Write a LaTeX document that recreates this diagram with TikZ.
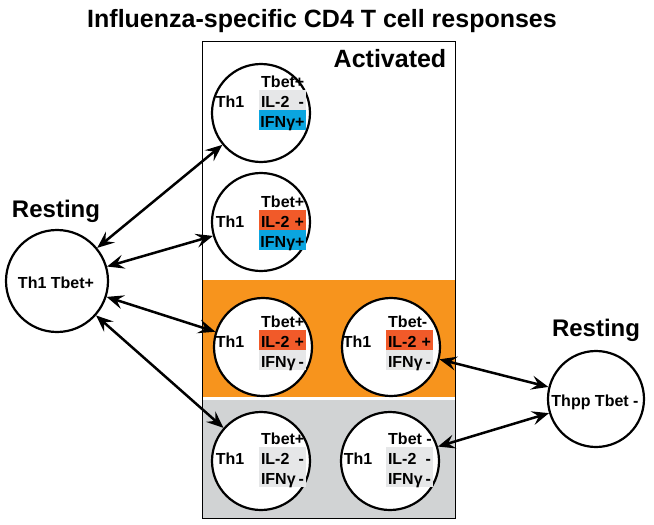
\documentclass[tikz,border=0pt]{standalone}
\usepackage{fontspec}
\setmainfont{Liberation Sans}
\usetikzlibrary{arrows.meta}
\definecolor{bandorange}{HTML}{F7941D}
\definecolor{bandgray}{HTML}{D1D3D4}
\definecolor{ilred}{HTML}{F15A29}
\definecolor{ifnblue}{HTML}{0AA5E0}
\definecolor{lightbox}{HTML}{E6E7E8}
\newcommand{\rowtxt}[2]{\makebox[43pt]{#1\hfill#2}}
\begin{document}
\begin{tikzpicture}[x=1pt,y=-1pt,
  cellc/.style={circle, draw, line width=2.2pt, fill=white, minimum size=98pt, inner sep=0pt},
  bigtxt/.style={font=\fontsize{25}{30}\selectfont\bfseries, inner sep=0pt, anchor=base},
  celltxt/.style={font=\fontsize{16}{18}\selectfont\bfseries, inner sep=0pt, anchor=base},
  tbettxt/.style={font=\fontsize{16}{18}\selectfont\bfseries, inner sep=0pt, anchor=base west},
  rowbox/.style={font=\fontsize{16}{18}\selectfont\bfseries, minimum width=47pt,
    minimum height=20pt, inner xsep=2pt, inner ysep=2pt, text height=15pt, text depth=1pt},
  biarrow/.style={line width=2.5pt, {Stealth[length=17pt,width=14pt,inset=6.5pt]}-{Stealth[length=17pt,width=14pt,inset=6.5pt]}}
]
\useasboundingbox (0,0) rectangle (654,525);

% title
\node[bigtxt] (title) at (322,27) {Influenza-specific CD4 T cell responses};

% activated box with bands
\fill[bandorange] (202,280) rectangle (455,397);
\fill[bandgray] (202,400) rectangle (455,518);
\draw[line width=0.9pt] (202,41.5) rectangle (455,518);
\node[bigtxt] (act) at (390,67) {Activated};

% resting cells
\node[cellc, minimum size=102pt] (rl) at (57,281) {};
\node[celltxt] (rltxt) at (56,288) {Th1 Tbet+};
\node[bigtxt, font=\fontsize{24}{28}\selectfont\bfseries] (rlhead) at (56,217) {Resting};

\node[cellc, minimum size=96pt] (rr) at (596,399) {};
\node[celltxt] (rrtxt) at (595,406) {Thpp Tbet -};
\node[bigtxt, font=\fontsize{24}{28}\selectfont\bfseries] (rrhead) at (596,336) {Resting};

% activated cells
\node[cellc] (c1) at (261,113) {};
\node[cellc] (c2) at (261,222) {};
\node[cellc] (c3) at (263,347) {};
\node[cellc] (c4) at (391,347) {};
\node[cellc] (c5) at (261,461) {};
\node[cellc] (c6) at (390,461) {};

% cell 1
\node[celltxt] (c1h) at (230,107) {Th1};
\node[tbettxt] (c1a) at (261,87) {Tbet+};
\node[rowbox, fill=lightbox] (c1b) at (282.5,100) {\rowtxt{IL-2}{-}};
\node[rowbox, fill=ifnblue] (c1c) at (282.5,120) {\rowtxt{IFNγ}{+}};

% cell 2
\node[celltxt] (c2h) at (230,227) {Th1};
\node[tbettxt] (c2a) at (261,207) {Tbet+};
\node[rowbox, fill=ilred] (c2b) at (282.5,220) {\rowtxt{IL-2}{+}};
\node[rowbox, fill=ifnblue] (c2c) at (282.5,240) {\rowtxt{IFNγ}{+}};

% cell 3
\node[celltxt] (c3h) at (230,347) {Th1};
\node[tbettxt] (c3a) at (261,327) {Tbet+};
\node[rowbox, fill=ilred] (c3b) at (282.5,340) {\rowtxt{IL-2}{+}};
\node[rowbox, fill=lightbox] (c3c) at (282.5,360) {\rowtxt{IFNγ}{-}};

% cell 4
\node[celltxt] (c4h) at (357,347) {Th1};
\node[tbettxt] (c4a) at (388,327) {Tbet-};
\node[rowbox, fill=ilred] (c4b) at (409.5,340) {\rowtxt{IL-2}{+}};
\node[rowbox, fill=lightbox] (c4c) at (409.5,360) {\rowtxt{IFNγ}{-}};

% cell 5
\node[celltxt] (c5h) at (230,464) {Th1};
\node[tbettxt] (c5a) at (261,444) {Tbet+};
\node[rowbox, fill=lightbox] (c5b) at (282.5,457) {\rowtxt{IL-2}{-}};
\node[rowbox, fill=lightbox] (c5c) at (282.5,477) {\rowtxt{IFNγ}{-}};

% cell 6
\node[celltxt] (c6h) at (358,464) {Th1};
\node[tbettxt] (c6a) at (388,444) {Tbet -};
\node[rowbox, fill=lightbox] (c6b) at (409.5,457) {\rowtxt{IL-2}{-}};
\node[rowbox, fill=lightbox] (c6c) at (409.5,477) {\rowtxt{IFNγ}{-}};

% arrows
\draw[biarrow] (rl) -- (c1);
\draw[biarrow] (rl) -- (c2);
\draw[biarrow] (rl) -- (c3);
\draw[biarrow] (rl) -- (c5);
\draw[biarrow] (c4) -- (rr);
\draw[biarrow] (c6) -- (rr);
\end{tikzpicture}
\end{document}
